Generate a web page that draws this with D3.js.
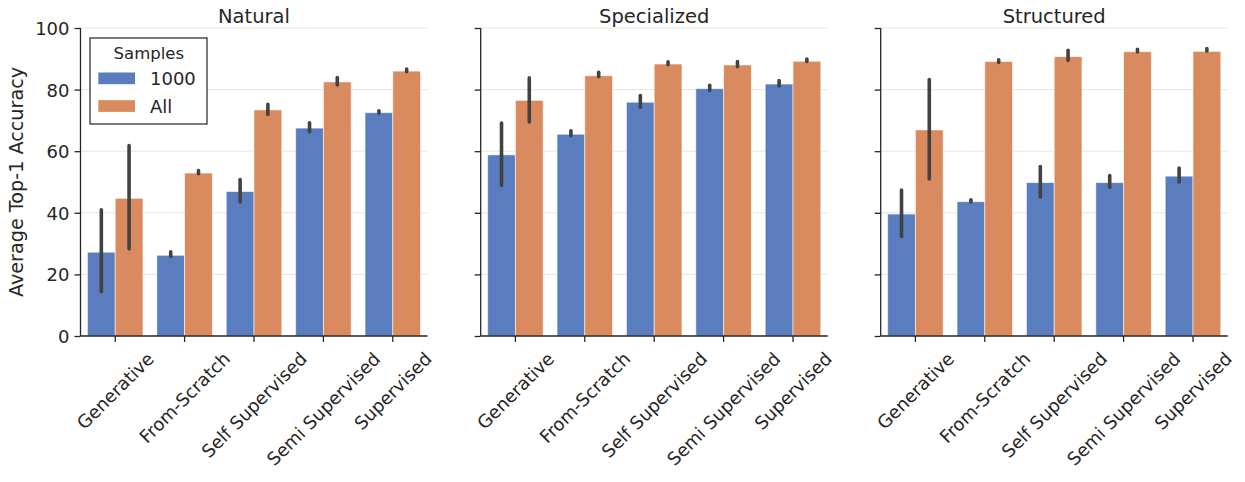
<!DOCTYPE html>
<html><head><meta charset="utf-8">
<script src="https://cdn.jsdelivr.net/npm/d3@7"></script>
<style>
html,body{margin:0;padding:0;background:#fff;}
text{font-family:"DejaVu Sans",sans-serif;fill:#262626;}
</style></head>
<body>
<svg id="chart" width="1245" height="482"></svg>
<script>
// ---- data ----
const categories = ["Generative", "From-Scratch", "Self Supervised", "Semi Supervised", "Supervised"];
const panelTitles = ["Natural", "Specialized", "Structured"];
const sampleLabels = ["1000", "All"];
const yTicks = [0, 20, 40, 60, 80, 100];

const natural1000 = [27.2, 26.2, 46.9, 67.5, 72.5];
const natural1000Ci = [[14.4, 41.0], [25.8, 27.3], [43.5, 50.8], [66.3, 69.2], [72.3, 73.1]];
const naturalAll = [44.7, 52.9, 73.4, 82.5, 86.0];
const naturalAllCi = [[28.3, 61.8], [52.7, 53.7], [71.9, 75.2], [81.5, 83.9], [85.8, 86.7]];

const specialized1000 = [58.8, 65.5, 75.9, 80.3, 81.8];
const specialized1000Ci = [[48.9, 69.1], [65.0, 66.6], [74.3, 78.1], [79.7, 81.4], [81.2, 82.9]];
const specializedAll = [76.5, 84.5, 88.3, 88.0, 89.2];
const specializedAllCi = [[69.5, 83.8], [84.2, 85.6], [88.1, 89.0], [87.4, 89.1], [89.1, 89.9]];

const structured1000 = [39.6, 43.6, 49.8, 49.8, 51.9];
const structured1000Ci = [[32.3, 47.4], [43.5, 44.2], [45.1, 55.0], [48.3, 52.1], [50.0, 54.5]];
const structuredAll = [66.9, 89.1, 90.7, 92.3, 92.4];
const structuredAllCi = [[51.0, 83.3], [88.8, 89.7], [89.5, 92.8], [92.2, 93.1], [92.5, 93.3]];

const panelData = [
  [{mean: natural1000, ci: natural1000Ci}, {mean: naturalAll, ci: naturalAllCi}],
  [{mean: specialized1000, ci: specialized1000Ci}, {mean: specializedAll, ci: specializedAllCi}],
  [{mean: structured1000, ci: structured1000Ci}, {mean: structuredAll, ci: structuredAllCi}]
];

// ---- styles ----
const colors = ["#597dbf", "#d98b5f"];
const axisColor = "#262626";
const errColor = "#424242";
const panelLeft = [80.5, 480.7, 880.7];
const panelW = 347;
const plotTop = 28, plotBottom = 336;

const svg = d3.select("#chart");
const y = d3.scaleLinear().domain([0, 100]).range([plotBottom, plotTop]);
const hue = d3.scaleBand().domain(sampleLabels).range([-0.4, 0.4]);

panelData.forEach((series, p) => {
  const x0 = panelLeft[p];
  const x = d3.scaleBand().domain(categories).range([x0, x0 + panelW]).paddingInner(0).paddingOuter(0);
  const bw = x.bandwidth();
  const g = svg.append("g");

  // grid
  g.append("g").selectAll("line").data(yTicks).join("line")
    .attr("x1", x0).attr("x2", x0 + panelW)
    .attr("y1", d => y(d)).attr("y2", d => y(d))
    .attr("stroke", "#e4e4e4").attr("stroke-width", 1);

  // bars
  series.forEach((s, si) => {
    g.append("g").selectAll("rect").data(categories).join("rect")
      .attr("x", (c) => x(c) + bw / 2 + hue(sampleLabels[si]) * bw)
      .attr("width", hue.bandwidth() * bw)
      .attr("y", (c, i) => y(s.mean[i]))
      .attr("height", (c, i) => y(0) - y(s.mean[i]))
      .attr("fill", colors[si])
      .attr("stroke", "#ffffff").attr("stroke-opacity", 0.6).attr("stroke-width", 0.9);
  });
  // error bars
  series.forEach((s, si) => {
    g.append("g").selectAll("line").data(categories).join("line")
      .attr("x1", (c) => x(c) + bw / 2 + (hue(sampleLabels[si]) + hue.bandwidth() / 2) * bw)
      .attr("x2", (c) => x(c) + bw / 2 + (hue(sampleLabels[si]) + hue.bandwidth() / 2) * bw)
      .attr("y1", (c, i) => y(s.ci[i][0]))
      .attr("y2", (c, i) => y(s.ci[i][1]))
      .attr("stroke", errColor).attr("stroke-width", 3.6).attr("stroke-linecap", "round");
  });

  // y axis
  const ya = d3.axisLeft(y).tickValues(yTicks).tickSize(6).tickPadding(5)
    .tickFormat(p === 0 ? d3.format("d") : () => "");
  const yg = g.append("g").attr("transform", `translate(${x0},0)`).call(ya);
  yg.select(".domain").attr("stroke", axisColor).attr("stroke-width", 1.3).attr("d", `M0,${plotTop}V${plotBottom}`);
  yg.selectAll(".tick line").attr("stroke", axisColor).attr("stroke-width", 1.3);
  yg.selectAll(".tick text").attr("font-size", 18).attr("fill", axisColor)
    .attr("font-family", "DejaVu Sans").attr("dy", "0.36em");

  // x axis
  const xa = d3.axisBottom(x).tickSize(6).tickFormat("");
  const xg = g.append("g").attr("transform", `translate(0,${plotBottom})`).call(xa);
  xg.select(".domain").attr("stroke", axisColor).attr("stroke-width", 1.3).attr("d", `M${x0},0H${x0 + panelW}`);
  xg.selectAll(".tick line").attr("stroke", axisColor).attr("stroke-width", 1.3);

  // rotated x tick labels (centered, top aligned)
  categories.forEach(c => {
    const cx = x(c) + bw / 2;
    const t = g.append("text").text(c).attr("font-size", 18)
      .attr("text-anchor", "middle").attr("dominant-baseline", "central");
    const w = t.node().getComputedTextLength();
    const h = 18 * 1.17;
    const side = (w + h) * Math.SQRT1_2;
    const cy = plotBottom + 6 + 6 + side / 2;
    t.attr("transform", `translate(${cx},${cy}) rotate(-45)`);
  });

  // title
  g.append("text").text(panelTitles[p]).attr("x", x0 + panelW / 2).attr("y", 23)
    .attr("text-anchor", "middle").attr("font-size", 19.5);
});

// y label
svg.append("text").text("Average Top-1 Accuracy")
  .attr("transform", `translate(23,${(plotTop + plotBottom) / 2}) rotate(-90)`)
  .attr("text-anchor", "middle").attr("font-size", 19.2);

// legend
const lg = svg.append("g");
lg.append("rect").attr("x", 90).attr("y", 38).attr("width", 117).attr("height", 86)
  .attr("fill", "#fff").attr("stroke", "#222").attr("stroke-width", 1.2);
lg.append("text").text("Samples").attr("x", 148.8).attr("y", 59)
  .attr("text-anchor", "middle").attr("font-size", 16.5);
sampleLabels.forEach((s, i) => {
  lg.append("rect").attr("x", 98.3).attr("y", 72.5 + i * 27.7).attr("width", 36.7).attr("height", 11.7)
    .attr("fill", colors[i]);
  lg.append("text").text(s).attr("x", 150).attr("y", 85 + i * 27.7).attr("font-size", 18);
});
</script>
</body></html>
